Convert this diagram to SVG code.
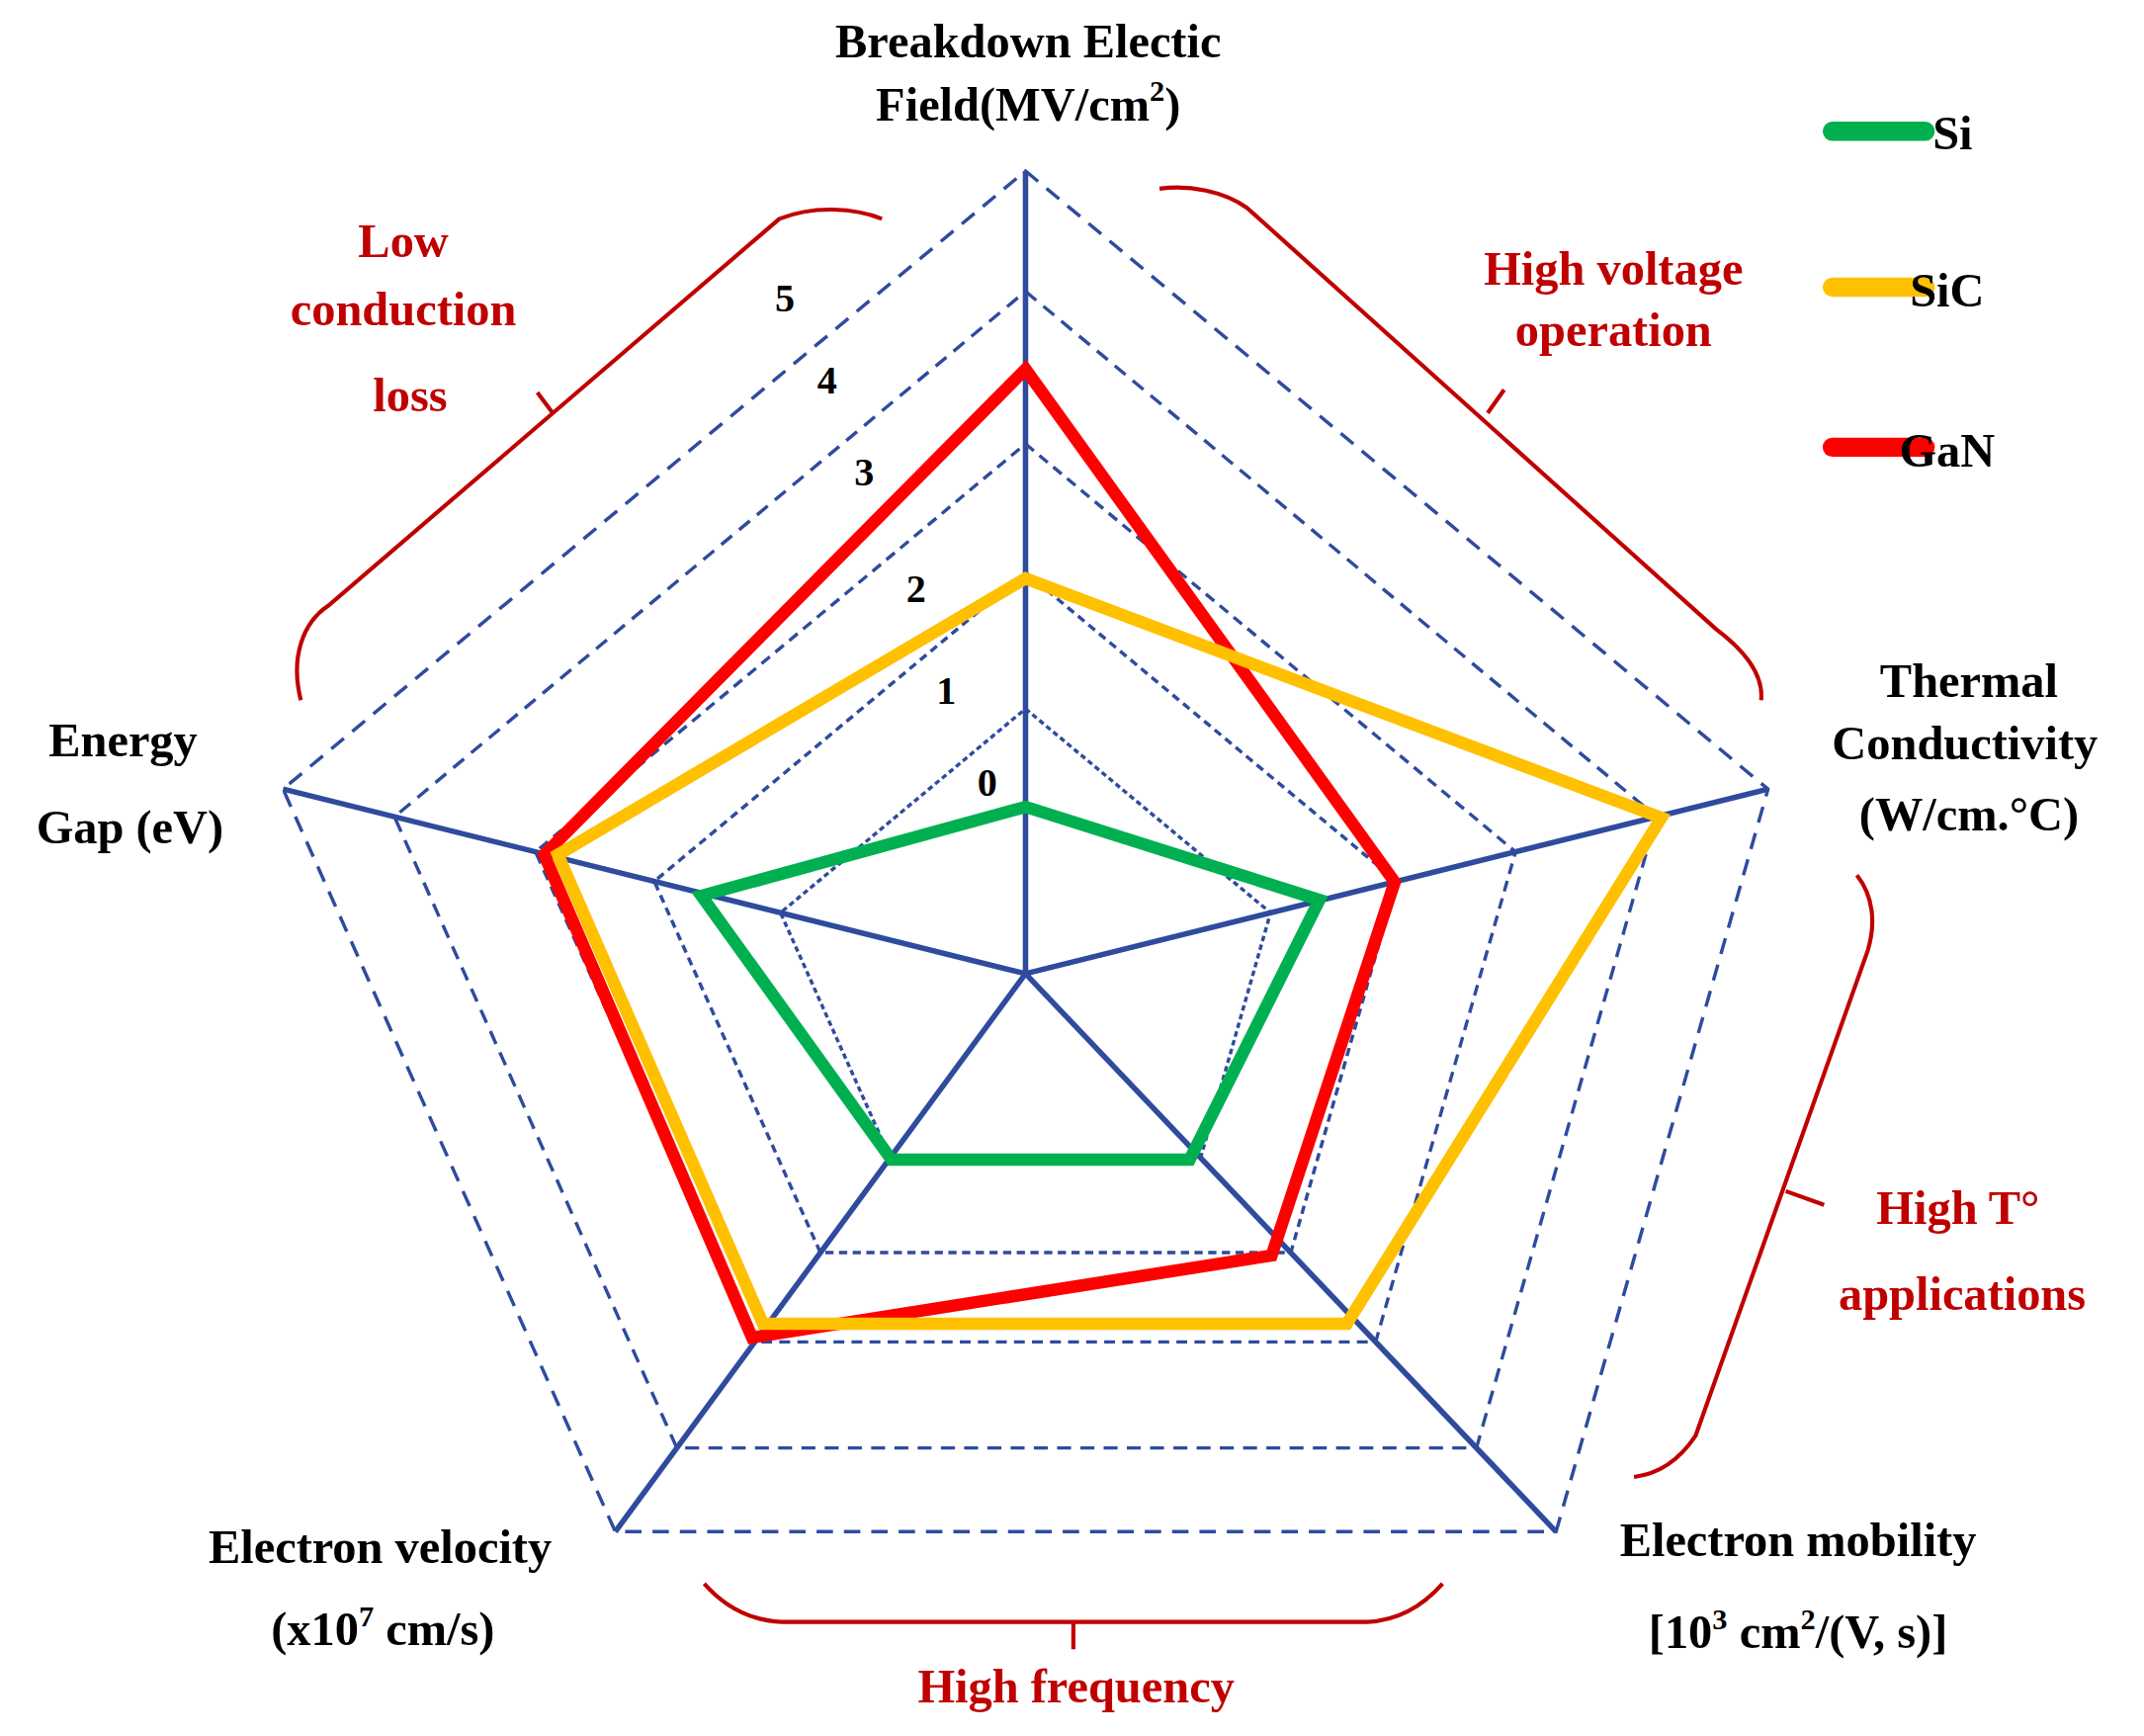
<svg xmlns="http://www.w3.org/2000/svg" width="2169" height="1756" viewBox="0 0 2169 1756">
<style>
.ax{stroke:#2E4B9E;stroke-width:4;fill:none}
.ds{stroke:#2E4B9E;stroke-width:2.5;fill:none;stroke-dasharray:12 8}
.t{font-family:"Liberation Serif",serif;font-weight:bold;font-size:35px;fill:#000;text-anchor:middle}
.r{font-family:"Liberation Serif",serif;font-weight:bold;font-size:35px;fill:#C00000;text-anchor:middle}
.n{font-family:"Liberation Serif",serif;font-weight:bold;font-size:29px;fill:#000;text-anchor:middle}
.br{stroke:#C00000;stroke-width:3;fill:none}
.lg{stroke-width:14;stroke-linecap:round}
</style>
<rect width="2169" height="1756" fill="#fff"/>
<g transform="scale(1.3833)">
<g id="grid">
<polygon class="ds" points="750,125 1293,577 1138,1120 450,1120 207,577"/>
<g transform="translate(750,712) scale(0.85) translate(-750,-712)"><polygon class="ds" points="750,125 1293,577 1138,1120 450,1120 207,577" style="stroke-width:2.9"/></g>
<g transform="translate(750,712) scale(0.66) translate(-750,-712)"><polygon class="ds" points="750,125 1293,577 1138,1120 450,1120 207,577" style="stroke-width:3.7"/></g>
<g transform="translate(750,712) scale(0.5) translate(-750,-712)"><polygon class="ds" points="750,125 1293,577 1138,1120 450,1120 207,577" style="stroke-width:5"/></g>
<g transform="translate(750,712) scale(0.33) translate(-750,-712)"><polygon class="ds" points="750,125 1293,577 1138,1120 450,1120 207,577" style="stroke-width:7.5"/></g>
</g>
<g id="axes">
<path class="ax" d="M750,712L750,125M750,712L1293,577M750,712L1138,1120M750,712L450,1120M750,712L207,577"/>
</g>
<g id="series">
<polygon points="750,590 965,658 870,848 652,848 513,655" fill="none" stroke="#00B050" stroke-width="9" stroke-linejoin="miter"/>
<polygon points="750,270 1020,645 930,918 550,978 398,625" fill="none" stroke="#FF0000" stroke-width="9"/>
<polygon points="750,423 1215,598 985,968 558,968 408,625" fill="none" stroke="#FFC000" stroke-width="9"/>
</g>
<g id="ticks">
<text class="n" x="574" y="228">5</text><text class="n" x="605" y="288">4</text><text class="n" x="632" y="355">3</text>
<text class="n" x="670" y="440">2</text><text class="n" x="692" y="515">1</text><text class="n" x="722" y="582">0</text>
</g>
<g id="labels">
<text class="t" x="752" y="42">Breakdown Electic</text>
<text class="t" x="752" y="88">Field(MV/cm<tspan font-size="22" dy="-14">2</tspan><tspan dy="14">)</tspan></text>
<text class="t" x="1440" y="510">Thermal</text>
<text class="t" x="1437" y="555">Conductivity</text>
<text class="t" x="1440" y="607" font-size="38">(W/cm.°C)</text>
<text class="t" x="90" y="553">Energy</text>
<text class="t" x="95" y="617">Gap (eV)</text>
<text class="t" x="278" y="1143">Electron velocity</text>
<text class="t" x="280" y="1203">(x10<tspan font-size="22" dy="-14">7</tspan><tspan dy="14"> cm/s)</tspan></text>
<text class="t" x="1315" y="1138">Electron mobility</text>
<text class="t" x="1315" y="1205">[10<tspan font-size="22" dy="-14">3</tspan><tspan dy="14"> cm</tspan><tspan font-size="22" dy="-14">2</tspan><tspan dy="14">/(V, s)]</tspan></text>
</g>
<g id="braces">
<path class="br" d="M220,512 C212,480 222,455 240,443 L570,160 C595,150 625,152 645,160 M393,287 L405,303"/>
<path class="br" d="M848,138 C870,135 895,140 912,152 L1255,460 C1275,475 1290,492 1288,512 M1088,302 L1100,285"/>
<path class="br" d="M1358,640 C1370,655 1372,675 1366,695 L1240,1050 C1228,1068 1212,1078 1195,1080 M1306,871 L1334,881"/>
<path class="br" d="M515,1158 C530,1175 548,1185 572,1186 L1000,1186 C1022,1185 1040,1175 1055,1158 M785,1186 L785,1206"/>
<text class="r" x="295" y="188">Low</text>
<text class="r" x="295" y="238">conduction</text>
<text class="r" x="300" y="301">loss</text>
<text class="r" x="1180" y="208">High voltage</text>
<text class="r" x="1180" y="253">operation</text>
<text class="r" x="1432" y="895">High T°</text>
<text class="r" x="1435" y="958">applications</text>
<text class="r" x="787" y="1245">High frequency</text>
</g>
<g id="legend">
<line class="lg" x1="1340" y1="96" x2="1408" y2="96" stroke="#00B050"/>
<line class="lg" x1="1340" y1="210" x2="1408" y2="210" stroke="#FFC000"/>
<line class="lg" x1="1340" y1="327" x2="1408" y2="327" stroke="#FF0000"/>
<text class="t" x="1428" y="109" font-size="40" text-anchor="start">Si</text>
<text class="t" x="1424" y="224" font-size="40" text-anchor="start">SiC</text>
<text class="t" x="1424" y="341" font-size="40" text-anchor="start">GaN</text>
</g>
</g>
</svg>
